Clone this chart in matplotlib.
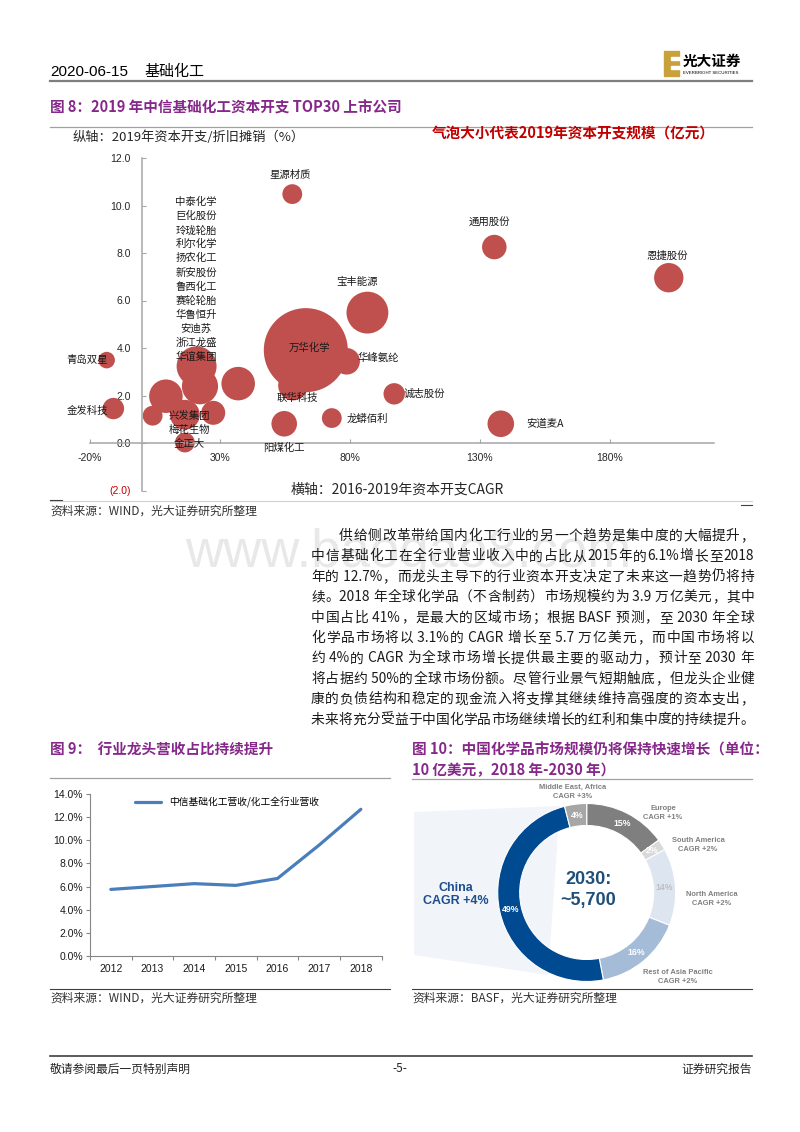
import re
import numpy as np
import matplotlib
matplotlib.use('Agg')
import matplotlib.pyplot as plt
from matplotlib.lines import Line2D
from matplotlib.patches import Rectangle, Polygon

plt.rcParams['font.family'] = ['Noto Sans CJK SC', 'DejaVu Sans']

W, H = 800, 1132
PURPLE = '#86288A'
BUBBLE = '#C0504D'
LATIN = ['Liberation Sans', 'Noto Sans CJK SC']

# ---- fig 8: capex bubbles (x: 2016-2019 capex CAGR %, y: capex / D&A, size: capex 亿元)
names = ['星源材质', '通用股份', '恩捷股份', '宝丰能源', '万华化学', '华峰氨纶', '联华科技',
         '诚志股份', '龙蟒佰利', '阳煤化工', '安道麦A', '青岛双星', '金发科技',
         '中泰化学', '巨化股份', '玲珑轮胎', '利尔化学', '扬农化工', '新安股份', '兴发集团', '金正大']
cagr = [57.8, 135.5, 202.6, 86.7, 63.0, 78.7, 58.1, 97.0, 73.0, 54.7, 138.0, -13.6, -11.0,
        21.0, 22.3, 9.2, 27.4, 37.0, 4.1, 16.5, 16.5]
ratio = [10.48, 8.25, 6.96, 5.49, 3.91, 3.44, 2.42, 2.07, 1.05, 0.81, 0.81, 3.49, 1.45,
         3.23, 2.39, 1.97, 1.27, 2.50, 1.15, 1.19, 0.02]
capex = [15, 23, 33, 67, 270, 27, 34, 17.5, 15, 25, 27, 10.5, 17.5,
         61, 50, 43, 22, 43, 15, 34, 15]
stack_names = ['中泰化学', '巨化股份', '玲珑轮胎', '利尔化学', '扬农化工', '新安股份', '鲁西化工',
               '赛轮轮胎', '华鲁恒升', '安迪苏', '浙江龙盛', '华谊集团']
low_names = ['兴发集团', '梅花生物', '金正大']
xticks8 = [-20, 30, 80, 130, 180]
yticks8 = [-2, 0, 2, 4, 6, 8, 10, 12]

# ---- fig 9
years = ['2012', '2013', '2014', '2015', '2016', '2017', '2018']
share = [5.75, 6.0, 6.25, 6.1, 6.7, 9.6, 12.7]

# ---- fig 10 (clockwise from 12 o'clock)
regions = ['Europe', 'South America', 'North America', 'Rest of Asia Pacific', 'China', 'Middle East, Africa']
share2030 = [15, 2, 14, 16, 49, 4]
region_cagr = ['+1%', '+2%', '+2%', '+2%', '+4%', '+3%']
region_colors = ['#7F7F7F', '#D9D9D9', '#DDE5F0', '#A5BCD9', '#004A91', '#A6A6A6']

body = [
    '供给侧改革带给国内化工行业的另一个趋势是集中度的大幅提升，',
    '中信基础化工在全行业营业收入中的占比从2015年的6.1%增长至2018',
    '年的 12.7%，而龙头主导下的行业资本开支决定了未来这一趋势仍将持',
    '续。2018 年全球化学品（不含制药）市场规模约为 3.9 万亿美元，其中',
    '中国占比 41%，是最大的区域市场；根据 BASF 预测，至 2030 年全球',
    '化学品市场将以 3.1%的 CAGR 增长至 5.7 万亿美元，而中国市场将以',
    '约 4%的 CAGR 为全球市场增长提供最主要的驱动力，预计至 2030 年',
    '将占据约 50%的全球市场份额。尽管行业景气短期触底，但龙头企业健',
    '康的负债结构和稳定的现金流入将支撑其继续维持高强度的资本支出，',
    '未来将充分受益于中国化学品市场继续增长的红利和集中度的持续提升。',
]

fig = plt.figure(figsize=(W / 100, H / 100), dpi=100)


def fx(x): return x / W
def fy(y): return 1 - y / H
def rect(x0, y0, x1, y1): return [fx(x0), fy(y1), (x1 - x0) / W, (y1 - y0) / H]


def put(x, y, s, **kw):
    kw.setdefault('va', 'center')
    return fig.text(fx(x), fy(y), s, **kw)


def hline(x0, x1, y, color='#A0A0A0', lw=0.8):
    fig.add_artist(Line2D([fx(x0), fx(x1)], [fy(y), fy(y)], color=color, lw=lw))


# header
put(50, 72, '2020-06-15', fontsize=11, family=LATIN)
put(144, 72, '基础化工', fontsize=10.8)
fig.add_artist(Rectangle((fx(664), fy(76)), 15 / W, 25 / H, color='#C9A13B', transform=fig.transFigure))
for yy in (57, 66):
    fig.add_artist(Rectangle((fx(671), fy(yy + 3)), 9 / W, 3 / H, color='white', transform=fig.transFigure))
put(683, 61, '光大证券', fontsize=10.5, weight='bold')
put(683, 73, 'EVERBRIGHT SECURITIES', fontsize=3.2, family=LATIN)
hline(50, 752, 81, '#7F7F7F', 1.6)

# ---- figure 8
put(50, 108, '图 8：2019 年中信基础化工资本开支 TOP30 上市公司', fontsize=10.5, weight='bold', color=PURPLE)
hline(50, 752, 127, '#A0A0A0', 0.9)
put(73, 137, '纵轴：2019年资本开支/折旧摊销（%）', fontsize=9.5, style='italic', color='#262626')
put(432, 134, '气泡大小代表2019年资本开支规模（亿元）', fontsize=10.5, weight='bold', color='#C00000')

ax = fig.add_axes(rect(90, 158, 714, 490.5))
ax.patch.set_alpha(0)
ax.scatter(cagr, ratio, s=np.array(capex) * 13.55, color=BUBBLE, linewidths=0, zorder=2, clip_on=False)
ax.set_xlim(-20, 220)
ax.set_ylim(-2, 12)
ax.spines['left'].set_position(('data', 0))
ax.spines['bottom'].set_position(('data', 0))
ax.spines[['top', 'right']].set_visible(False)
for s in ('left', 'bottom'):
    ax.spines[s].set_color('#A6A6A6')
    ax.spines[s].set_linewidth(1.1)
ax.set_xticks(xticks8, [f'{v}%' for v in xticks8])
ax.set_yticks(yticks8, ['(2.0)' if v < 0 else f'{v:.1f}' for v in yticks8])
ax.tick_params(direction='in', length=3, color='#A6A6A6', labelsize=7.5, labelcolor='#262626')
ax.tick_params(axis='x', pad=7)
ax.tick_params(axis='y', pad=8)
for t in ax.get_xticklabels() + ax.get_yticklabels():
    t.set_family(LATIN)
ax.get_yticklabels()[0].set_color('#C00000')

# individual labels: offset in px (right, down) and alignment
label_pos = {'星源材质': (-2, -19, 'center'), '通用股份': (-5, -25, 'center'),
             '恩捷股份': (-2, -22, 'center'), '宝丰能源': (-10, -31, 'center'),
             '万华化学': (4, -2, 'center'), '华峰氨纶': (11, -3, 'left'),
             '联华科技': (4, 12, 'center'), '诚志股份': (9, 0, 'left'),
             '龙蟒佰利': (15, 1, 'left'), '阳煤化工': (0, 24, 'center'),
             '安道麦A': (25, 0, 'left'), '青岛双星': (1, 0, 'right'),
             '金发科技': (-5, 2, 'right')}
for n, x, y in zip(names, cagr, ratio):
    if n in label_pos:
        dx, dy, ha = label_pos[n]
        ax.annotate(n, (x, y), xytext=(dx * 0.72, -dy * 0.72), textcoords='offset points',
                    ha=ha, va='center', fontsize=7.5, color='#1A1A1A', zorder=5)
for i, n in enumerate(stack_names):
    put(196, 202 + i * 14.07, n, fontsize=7.5, ha='center', color='#1A1A1A', zorder=5)
for i, n in enumerate(low_names):
    put(189, 416 + i * 14, n, fontsize=7.5, ha='center', color='#1A1A1A', zorder=5)

put(397, 490, '横轴：2016-2019年资本开支CAGR', fontsize=10, style='italic', ha='center', color='#262626')
hline(50, 752, 501, '#D0D0D0', 0.8)
hline(50, 62, 500, '#404040', 0.8)
hline(741, 752, 505, '#404040', 0.8)
put(50, 511, '资料来源：WIND，光大证券研究所整理', fontsize=8.5, color='#333333')

# ---- body text (justified), faint watermark behind it
put(408, 553, 'www.baogao8.com', fontsize=38, color='#E8E8E8', ha='center', zorder=0, family=LATIN)
renderer = fig.canvas.get_renderer()


def justify(line, x0, x1, y, size=9.9):
    tokens = re.findall(r'[\x20-\x7e]+|.', line)
    arts = [put(x0, y, t, fontsize=size, color='#1A1A1A', zorder=3) for t in tokens]
    widths = [a.get_window_extent(renderer).width for a in arts]
    gap = (x1 - x0 - sum(widths)) / max(len(tokens) - 1, 1)
    x = x0
    for a, w in zip(arts, widths):
        a.set_x(fx(x))
        x += w + gap


for i, line in enumerate(body):
    justify(line, 339 if i == 0 else 311, 754, 536 + i * 20.4)

# ---- figure 9
put(50, 750, '图 9：  行业龙头营收占比持续提升', fontsize=10.5, weight='bold', color=PURPLE)
hline(50, 390, 778, '#A0A0A0', 0.9)
ax2 = fig.add_axes(rect(90, 794.3, 381.7, 955.7))
ax2.plot(range(len(years)), share, color='#4A7EBB', lw=2.3, label='中信基础化工营收/化工全行业营收',
         solid_capstyle='round')
ax2.set_xlim(-0.5, len(years) - 0.5)
ax2.set_ylim(0, 14)
ax2.set_yticks(np.arange(0, 15, 2), [f'{v:.1f}%' for v in np.arange(0, 15, 2)])
ax2.set_xticks(np.arange(-0.5, len(years), 1), [''] * (len(years) + 1))
ax2.set_xticks(range(len(years)), years, minor=True)
ax2.tick_params(axis='x', which='minor', length=0, pad=6)
ax2.tick_params(axis='x', which='major', length=3, color='#868686')
ax2.tick_params(axis='y', length=3, color='#868686', pad=2)
ax2.tick_params(labelsize=7.5, labelcolor='#1A1A1A')
ax2.tick_params(axis='x', which='minor', labelsize=7.5, labelcolor='#1A1A1A')
for t in ax2.get_yticklabels() + ax2.get_xticklabels(minor=True):
    t.set_family(LATIN)
ax2.spines[['top', 'right']].set_visible(False)
for s in ('left', 'bottom'):
    ax2.spines[s].set_color('#868686')
ax2.legend(loc='upper left', bbox_to_anchor=(0.14, 1.01), frameon=False, fontsize=7,
           handlelength=2.7, borderaxespad=0)
hline(50, 390, 989, '#404040', 0.8)
put(50, 998, '资料来源：WIND，光大证券研究所整理', fontsize=8.5, color='#333333')

# ---- figure 10
put(412, 750, '图 10：中国化学品市场规模仍将保持快速增长（单位：', fontsize=10.5, weight='bold', color=PURPLE)
put(412, 770, '10 亿美元，2018 年-2030 年）', fontsize=10.5, weight='bold', color=PURPLE)
hline(412, 752, 779, '#A0A0A0', 0.9)
ax3 = fig.add_axes(rect(405, 783, 760, 988))
cx, cy, R = 586.7, H - 892.5, 89
ax3.add_patch(Polygon([(414, H - 812), (560, H - 806), (548, H - 975), (414, H - 955)],
                      closed=True, color='#F1F5FA', lw=0, zorder=0))
wedges, _ = ax3.pie(share2030, colors=region_colors, startangle=90, counterclock=False,
                    radius=R, center=(cx, cy),
                    wedgeprops=dict(width=22, edgecolor='white', linewidth=0.8))
ax3.set_xlim(405, 760)
ax3.set_ylim(H - 988, H - 783)
ax3.axis('off')
for w, p in zip(wedges, share2030):
    mid = np.radians((w.theta1 + w.theta2) / 2)
    ax3.text(cx + 78 * np.cos(mid), cy + 78 * np.sin(mid), f'{p}%', ha='center', va='center',
             fontsize=6.3, weight='bold', color='#BFBFBF' if p == 14 else 'white', family=LATIN)
ax3.text(589, H - 879, '2030:', ha='center', va='center', fontsize=13, weight='bold',
         color='#1F4E79', family=LATIN)
ax3.text(588.5, H - 901, '~5,700', ha='center', va='center', fontsize=13, weight='bold',
         color='#1F4E79', family=LATIN)
label_xy = {'Europe': (663, 808), 'South America': (698, 840), 'North America': (712, 894),
            'Rest of Asia Pacific': (678, 972), 'Middle East, Africa': (573, 787), 'China': (456, 888)}
for reg, g in zip(regions, region_cagr):
    lx, ly = label_xy[reg]
    big = reg == 'China'
    col = '#1F4E8C' if big else '#808080'
    fs = 9 if big else 5.4
    step = 13.5 if big else 9.7
    ax3.text(lx, H - ly, reg, ha='center', va='center', fontsize=fs, weight='bold', color=col, family=LATIN)
    ax3.text(lx, H - ly - step, 'CAGR ' + g, ha='center', va='center', fontsize=fs, weight='bold',
             color=col, family=LATIN)
hline(412, 752, 989, '#404040', 0.8)
put(412, 998, '资料来源：BASF，光大证券研究所整理', fontsize=8.5, color='#333333')

# footer
hline(50, 752, 1056, '#404040', 1.2)
put(50, 1069, '敬请参阅最后一页特别声明', fontsize=8.5, color='#262626')
put(400, 1069, '-5-', fontsize=8.5, ha='center', color='#262626')
put(752, 1069, '证券研究报告', fontsize=8.5, ha='right', color='#262626')

fig.savefig('out.png', dpi=100)
